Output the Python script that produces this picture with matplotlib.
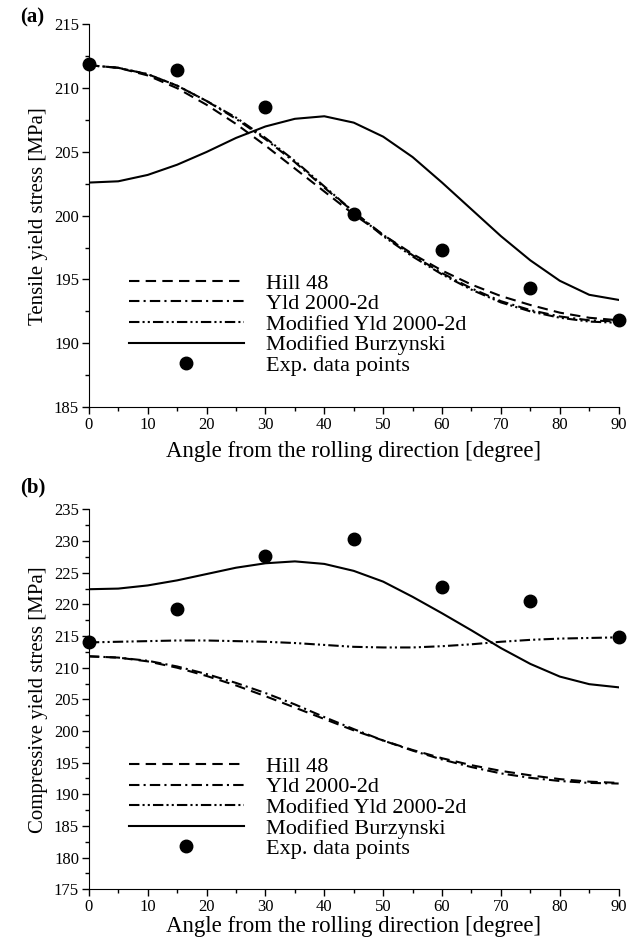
import numpy as np
import matplotlib
matplotlib.use('Agg')
import matplotlib.pyplot as plt
from matplotlib.ticker import MultipleLocator

plt.rcParams['font.family'] = ['Liberation Serif', 'DejaVu Serif']

# angle from rolling direction [deg]
angles = [0, 5, 10, 15, 20, 25, 30, 35, 40, 45, 50, 55, 60, 65, 70, 75, 80, 85, 90]

# model predictions (same Hill 48 / Yld 2000-2d curves in tension and compression)
hill48 = [211.8, 211.6, 211.0, 210.0, 208.7, 207.2, 205.5, 203.7, 201.9, 200.1,
          198.5, 197.0, 195.7, 194.6, 193.7, 193.0, 192.4, 192.0, 191.8]
yld2000 = [211.8, 211.6, 211.1, 210.2, 209.0, 207.6, 206.0, 204.2, 202.2, 200.3,
           198.5, 196.9, 195.5, 194.3, 193.3, 192.6, 192.1, 191.8, 191.7]

# (a) tension
mod_yld_t = [211.8, 211.6, 211.1, 210.2, 209.0, 207.7, 206.1, 204.3, 202.3, 200.3,
             198.4, 196.8, 195.4, 194.2, 193.2, 192.5, 192.0, 191.7, 191.6]
burz_t = [202.6, 202.7, 203.2, 204.0, 205.0, 206.1, 207.0, 207.6, 207.8, 207.3,
          206.2, 204.6, 202.6, 200.5, 198.4, 196.5, 194.9, 193.8, 193.4]
exp_angles = [0, 15, 30, 45, 60, 75, 90]
exp_t = [211.9, 211.4, 208.5, 200.1, 197.3, 194.3, 191.8]

# (b) compression
mod_yld_c = [214.0, 214.1, 214.2, 214.3, 214.3, 214.2, 214.1, 213.9, 213.6, 213.3,
             213.2, 213.2, 213.4, 213.7, 214.1, 214.4, 214.6, 214.7, 214.8]
burz_c = [222.4, 222.5, 223.0, 223.8, 224.8, 225.8, 226.5, 226.8, 226.4, 225.3,
          223.6, 221.2, 218.6, 215.9, 213.1, 210.6, 208.6, 207.4, 206.9]
exp_c = [214.05, 219.2, 227.6, 230.3, 222.8, 220.6, 214.8]

fig = plt.figure(figsize=(6.3, 9.4), dpi=100)
ax1 = fig.add_axes([0.141, 0.567, 0.841, 0.407])
ax2 = fig.add_axes([0.141, 0.054, 0.841, 0.404])

dash = (0, (5, 3))
dashdot = (0, (5, 2, 1, 2))
dashdotdot = (0, (5, 1.5, 1, 1.5, 1, 1.5))


def draw(ax, mod_yld, burz, exp, ylim, ylabel, xlabelpad):
    ax.plot(angles, hill48, color='k', lw=1.5, ls=dash, label='Hill 48')
    ax.plot(angles, yld2000, color='k', lw=1.5, ls=dashdot, label='Yld 2000-2d')
    ax.plot(angles, mod_yld, color='k', lw=1.5, ls=dashdotdot, label='Modified Yld 2000-2d')
    ax.plot(angles, burz, color='k', lw=1.5, ls='-', label='Modified Burzynski')
    ax.plot(exp_angles, exp, 'o', color='k', ms=9, clip_on=False, label='Exp. data points')
    ax.set_xlim(0, 90)
    ax.set_ylim(*ylim)
    ax.xaxis.set_major_locator(MultipleLocator(10))
    ax.xaxis.set_minor_locator(MultipleLocator(5))
    ax.yaxis.set_major_locator(MultipleLocator(5))
    ax.yaxis.set_minor_locator(MultipleLocator(2.5))
    ax.spines['top'].set_visible(False)
    ax.spines['right'].set_visible(False)
    ax.tick_params(which='major', length=5, width=1, labelsize=12, pad=2)
    ax.tick_params(which='minor', length=3, width=1)
    ax.set_xlabel('Angle from the rolling direction [degree]', fontsize=16.5,
                  labelpad=xlabelpad)
    ax.set_ylabel(ylabel, fontsize=15)
    ax.legend(loc='upper left', bbox_to_anchor=(0.075, 0.35), frameon=False,
              fontsize=16, handlelength=5.2, handletextpad=1.0, labelspacing=0.0,
              borderpad=0, borderaxespad=0)


draw(ax1, mod_yld_t, burz_t, exp_t, (185, 215), 'Tensile yield stress [MPa]', 6)
draw(ax2, mod_yld_c, burz_c, exp_c, (175, 235), 'Compressive yield stress [MPa]', 1)

fig.text(0.032, 0.981, '(a)', fontsize=15, fontweight='bold', va='center', ha='left')
fig.text(0.032, 0.481, '(b)', fontsize=15, fontweight='bold', va='center', ha='left')

fig.savefig('out.png', dpi=100)
